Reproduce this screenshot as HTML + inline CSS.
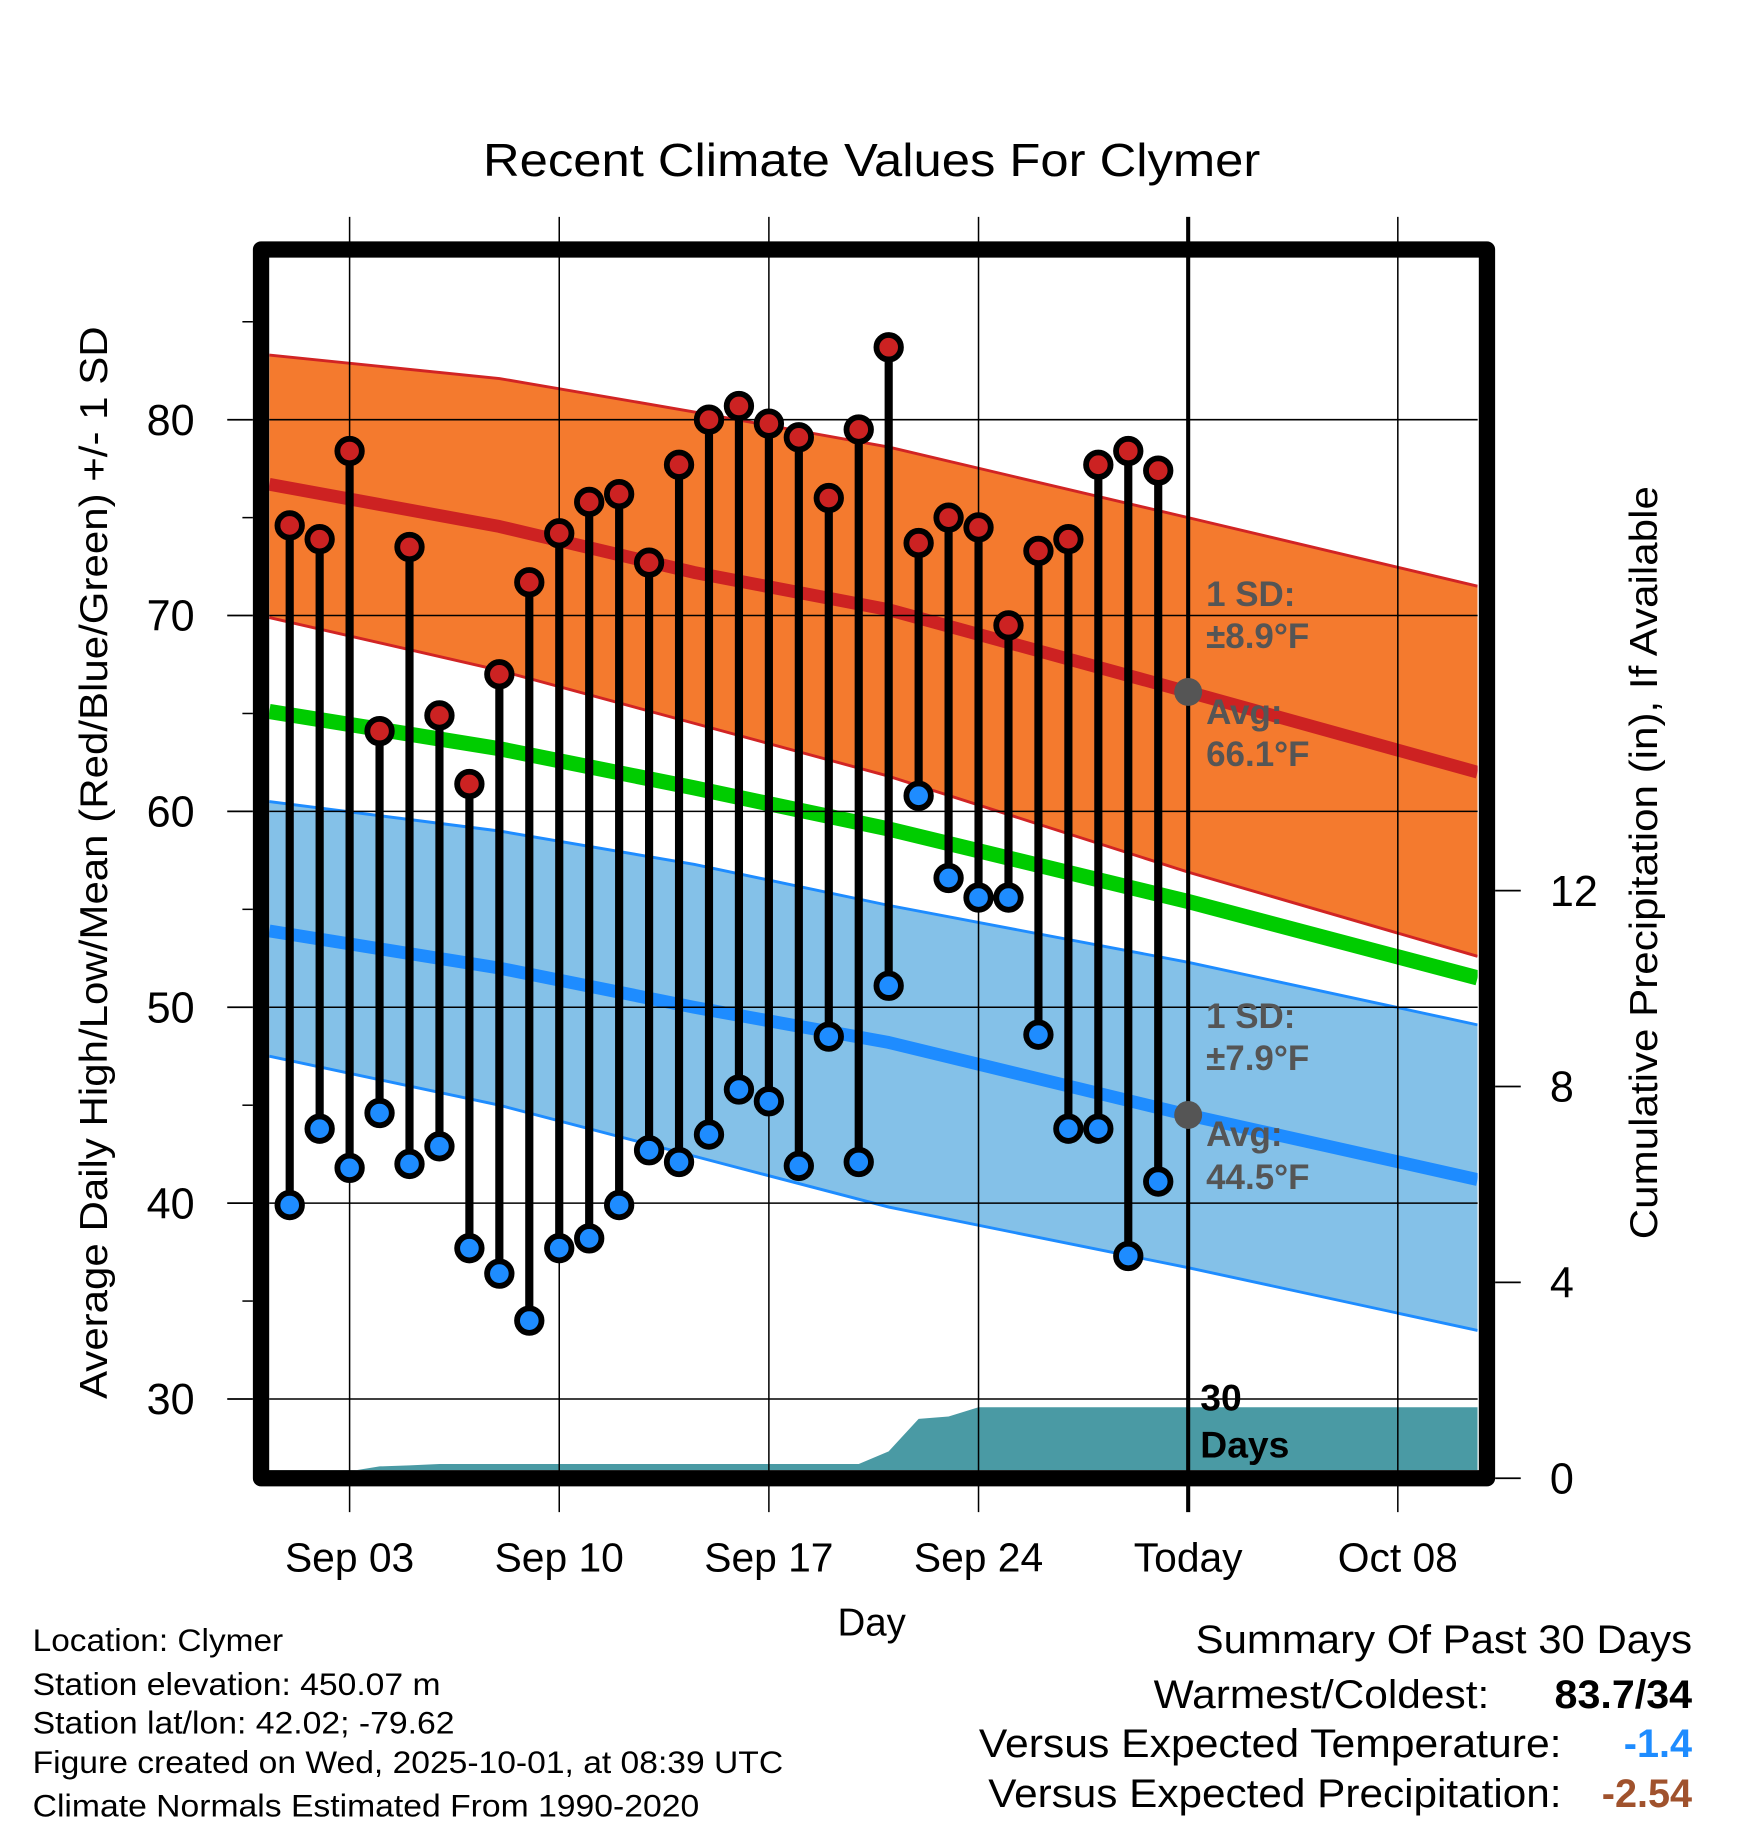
<!DOCTYPE html>
<html><head><meta charset="utf-8"><style>
html,body{margin:0;padding:0;background:#fff}
svg{display:block}
text{font-family:"Liberation Sans",Arial,sans-serif}
</style></head><body>
<svg id="chart" width="1748" height="1828" viewBox="0 0 1500 1568" preserveAspectRatio="none" xmlns="http://www.w3.org/2000/svg">
<g id="bands"></g>
<g id="grid"></g>
<g id="stems"></g>
<g id="frame"></g>
<g id="labels"></g>
</svg>
<script>
// ---- data ----
const days = [1,2,3,4,5,6,7,8,9,10,11,12,13,14,15,16,17,18,19,20,21,22,23,24,25,26,27,28,29,30];
const highs = [74.6,73.9,78.4,64.1,73.5,64.9,61.4,67.0,71.7,74.2,75.8,76.2,72.7,77.7,80.0,80.7,79.8,79.1,76.0,79.5,83.7,73.7,75.0,74.5,69.5,73.3,73.9,77.7,78.4,77.4];
const lows = [39.9,43.8,41.8,44.6,42.0,42.9,37.7,36.4,34.0,37.7,38.2,39.9,42.7,42.1,43.5,45.8,45.2,41.9,48.5,42.1,51.1,60.8,56.6,55.6,55.6,48.6,43.8,43.8,37.3,41.1];
const precip = [0,0,0,0.1,0.12,0.15,0.15,0.15,0.15,0.15,0.15,0.15,0.15,0.15,0.15,0.15,0.15,0.15,0.15,0.15,0.41,1.08,1.13,1.32,1.32,1.32,1.32,1.32,1.32,1.32];
const normDays = [0.32,8,14.5,21,31,40.66];
const normHighAvg = [76.7,74.55,72.2,70.3,66.1,62.0];
const normHighUp = [83.3,82.1,80.4,78.6,75.0,71.5];
const normHighLo = [69.9,67.2,64.5,61.8,56.9,52.6];
const normMean = [65.1,63.2,61.2,59.1,55.4,51.5];
const normLowAvg = [53.9,52.0,50.0,48.2,44.5,41.2];
const normLowUp = [60.5,59.0,57.3,55.2,52.3,49.1];
const normLowLo = [47.5,45.0,42.4,39.8,36.7,33.5];
const xTickDays = [3,10,17,24,31,38];
const xTickLabels = ["Sep 03","Sep 10","Sep 17","Sep 24","Today","Oct 08"];
const yTicks = [30,40,50,60,70,80];
const y2Ticks = [0,4,8,12];

// ---- axes ----
const L=231,R=1268,T=221,B=1261;
const X = d => 248.6 + (d-1)*25.7;
const Y = v => 360 + (80-v)*16.8;
const Y2 = p => 1262 - p*41.6;
const NS="http://www.w3.org/2000/svg";
function mk(parent,tag,attrs){const e=document.createElementNS(NS,tag);for(const k in attrs)e.setAttribute(k,attrs[k]);parent.appendChild(e);return e;}
const bands=document.getElementById('bands'),grid=document.getElementById('grid'),stems=document.getElementById('stems'),frame=document.getElementById('frame'),labels=document.getElementById('labels');
const clip=mk(document.getElementById('chart'),'clipPath',{id:'pc'});mk(clip,'rect',{x:L,y:T,width:R-L,height:B-T});
bands.setAttribute('clip-path','url(#pc)');
function pts(arr){return normDays.map((d,i)=>X(d).toFixed(1)+','+Y(arr[i]).toFixed(1));}
function band(up,lo,fill,edge,name){
  const p=mk(bands,'polygon',{points:pts(up).concat(pts(lo).reverse()).join(' '),fill:fill});
  
  
  const a=mk(bands,'polyline',{points:pts(up).join(' '),fill:'none',stroke:edge,'stroke-width':2.5,'stroke-linejoin':'round'});
  
  
  const b=mk(bands,'polyline',{points:pts(lo).join(' '),fill:'none',stroke:edge,'stroke-width':2.5,'stroke-linejoin':'round'});
  
  
}
function line(arr,color,w,name){
  const l=mk(bands,'polyline',{points:pts(arr).join(' '),fill:'none',stroke:color,'stroke-width':w,'stroke-linejoin':'round'});
  
  
}
band(normHighUp,normHighLo,'#f47a2e','#d12424','high-sd-band');
line(normHighAvg,'#cd2222',11,'avg-high-line');
band(normLowUp,normLowLo,'#84c1e8','#1e8cff','low-sd-band');
line(normLowAvg,'#1e8cff',11,'avg-low-line');
line(normMean,'#00cc00',13,'mean-line');
// precip area
let pp=[X(days[0]-1.2)+','+B];
pp.push(X(days[0]-1.2)+','+Y2(precip[0]));
days.forEach((d,i)=>pp.push(X(d).toFixed(1)+','+Y2(precip[i]).toFixed(1)));
pp.push(R+','+Y2(precip[precip.length-1]));pp.push(R+','+B);
const pa=mk(bands,'polygon',{points:pp.join(' '),fill:'#4a9aa4'});



// grid
yTicks.forEach(v=>{const g=mk(grid,'line',{x1:L,x2:R,y1:Y(v),y2:Y(v),stroke:'#000','stroke-width':1.3});

});
xTickDays.forEach((d,i)=>{const g=mk(grid,'line',{x1:X(d),x2:X(d),y1:186,y2:1297,stroke:'#000','stroke-width':i==4?3.5:1.3});

});

// stems & markers
days.forEach((d,i)=>{
  const s=mk(stems,'line',{x1:X(d),x2:X(d),y1:Y(highs[i]),y2:Y(lows[i]),stroke:'#000','stroke-width':7});
  
  
  const h=mk(stems,'circle',{cx:X(d),cy:Y(highs[i]),r:10.5,fill:'#cc2222',stroke:'#000','stroke-width':5});
  
  
  const lo=mk(stems,'circle',{cx:X(d),cy:Y(lows[i]),r:10.5,fill:'#1e8cff',stroke:'#000','stroke-width':5});
  
  
});
[[66.1,'today-avg-high-dot'],[44.5,'today-avg-low-dot']].forEach(a=>{
  const c=mk(stems,'circle',{cx:X(31),cy:Y(a[0]),r:12,fill:'#555'});
  
  
});

// frame
const fr=mk(frame,'rect',{x:224,y:214,width:1052,height:1054,fill:'none',stroke:'#000','stroke-width':14,'stroke-linejoin':'round'});


yTicks.forEach(v=>{const t=mk(frame,'line',{x1:195,x2:217,y1:Y(v),y2:Y(v),stroke:'#000','stroke-width':1.5});


const lb=mk(labels,'text',{x:167,y:Y(v)+13,'font-size':37,'text-anchor':'end'});lb.textContent=v;

});
[35,45,55,65,75,85].forEach(v=>{const t=mk(frame,'line',{x1:208,x2:217,y1:Y(v),y2:Y(v),stroke:'#000','stroke-width':1.3});

});
y2Ticks.forEach(p=>{const yy=1268-p*42;const t=mk(frame,'line',{x1:1283,x2:1305,y1:yy,y2:yy,stroke:'#000','stroke-width':1.5});


const lb=mk(labels,'text',{x:1330,y:yy+13,'font-size':37});lb.textContent=p;

});
xTickDays.forEach((d,i)=>{const lb=mk(labels,'text',{x:X(d),y:1348,'font-size':35,'text-anchor':'middle'});lb.textContent=xTickLabels[i];

});
</script>
<script>
(function(){
const NS="http://www.w3.org/2000/svg";const labels=document.getElementById('labels');
function t(x,y,s,txt,name,o){const e=document.createElementNS(NS,'text');e.setAttribute('x',x);e.setAttribute('y',y);e.setAttribute('font-size',s);
for(const k in (o||{}))e.setAttribute(k,o[k]);e.textContent=txt;


labels.appendChild(e);return e;}
t(748,151,40,'Recent Climate Values For Clymer','chart-title',{'text-anchor':'middle',textLength:667,lengthAdjust:'spacingAndGlyphs'});
t(748,1403,33,'Day','x-axis-title',{'text-anchor':'middle'});
t(0,0,33,'Average Daily High/Low/Mean (Red/Blue/Green) +/- 1 SD','y-axis-title',{'text-anchor':'middle',transform:'translate(92,740) rotate(-90)',textLength:920,lengthAdjust:'spacingAndGlyphs'});
t(0,0,33,'Cumulative Precipitation (in), If Available','y2-axis-title',{'text-anchor':'middle',transform:'translate(1422,740) rotate(-90)',textLength:646,lengthAdjust:'spacingAndGlyphs'});
const g={fill:'#555','font-weight':'bold','font-size':30};
t(1035,520,30,'1 SD:','high-sd-label',g);
t(1035,556,30,'±8.9°F','high-sd-value',g);
t(1035,621,30,'Avg:','high-avg-label',g);
t(1035,657,30,'66.1°F','high-avg-value',g);
t(1035,882,30,'1 SD:','low-sd-label',g);
t(1035,918,30,'±7.9°F','low-sd-value',g);
t(1035,983,30,'Avg:','low-avg-label',g);
t(1035,1020,30,'44.5°F','low-avg-value',g);
t(1030,1210,32,'30','days-count',{'font-weight':'bold'});
t(1030,1250,32,'Days','days-label',{'font-weight':'bold'});
const info=[['Location: Clymer',1416,215],['Station elevation: 450.07 m',1454,350],['Station lat/lon: 42.02; -79.62',1487,362],['Figure created on Wed, 2025-10-01, at 08:39 UTC',1521,644],['Climate Normals Estimated From 1990-2020',1558,572]];
info.forEach((r,i)=>t(28,r[1],27,r[0],'station-info-line',{textLength:r[2],lengthAdjust:'spacingAndGlyphs'}));
t(1452,1418,34,'Summary Of Past 30 Days','summary-title',{'text-anchor':'end',textLength:426,lengthAdjust:'spacingAndGlyphs'});
t(1278,1465,34,'Warmest/Coldest:','warmest-coldest-label',{'text-anchor':'end',textLength:288,lengthAdjust:'spacingAndGlyphs'});
t(1452,1465,34,'83.7/34','warmest-coldest-value',{'text-anchor':'end','font-weight':'bold',textLength:118,lengthAdjust:'spacingAndGlyphs'});
t(1340,1507,34,'Versus Expected Temperature:','temp-departure-label',{'text-anchor':'end',textLength:500,lengthAdjust:'spacingAndGlyphs'});
t(1452,1507,34,'-1.4','temp-departure-value',{'text-anchor':'end','font-weight':'bold',fill:'#1e8cff'});
t(1340,1550,34,'Versus Expected Precipitation:','precip-departure-label',{'text-anchor':'end',textLength:492,lengthAdjust:'spacingAndGlyphs'});
t(1452,1550,34,'-2.54','precip-departure-value',{'text-anchor':'end','font-weight':'bold',fill:'#a0522d'});
})();
</script>
</body></html>
